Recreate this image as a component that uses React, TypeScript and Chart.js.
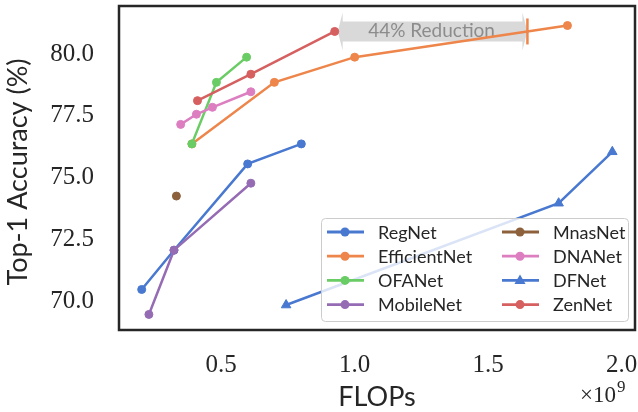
import React, { useEffect, useRef } from "react";
import { Chart, registerables } from "chart.js";

Chart.register(...registerables);

// ---- data (FLOPs in 1e9, Top-1 accuracy in %) ----
const regNetFlops = [0.202, 0.323, 0.599, 0.8];
const regNetAcc = [70.47, 72.06, 75.55, 76.36];

const efficientNetFlops = [0.39, 0.699, 1.0, 1.797];
const efficientNetAcc = [76.36, 78.85, 79.87, 81.15];

const ofaNetFlops = [0.39, 0.482, 0.595];
const ofaNetAcc = [76.36, 78.85, 79.87];

const mobileNetFlops = [0.229, 0.323, 0.611];
const mobileNetAcc = [69.46, 72.06, 74.77];

const mnasNetFlops = [0.332];
const mnasNetAcc = [74.25];

const dnaNetFlops = [0.348, 0.407, 0.467, 0.611];
const dnaNetAcc = [77.15, 77.56, 77.84, 78.47];

const dfNetFlops = [0.743, 1.764, 1.965];
const dfNetAcc = [69.84, 73.96, 76.04];

const zenNetFlops = [0.411, 0.611, 0.925];
const zenNetAcc = [78.11, 79.18, 80.91];

// reduction annotation: from ZenNet's best model to EfficientNet at same accuracy
const reductionFlops = [0.925, 1.647];
const reductionAcc = 80.91;
const reductionLabel = "44% Reduction";

const xTicks = [0.5, 1.0, 1.5, 2.0];
const yTicks = [70.0, 72.5, 75.0, 77.5, 80.0];
const xRange = [0.117, 2.05];
const yRange = [68.83, 81.94];

const seriesNames = ["RegNet", "EfficientNet", "OFANet", "MobileNet", "MnasNet", "DNANet", "DFNet", "ZenNet"];
const seriesFlops = [regNetFlops, efficientNetFlops, ofaNetFlops, mobileNetFlops, mnasNetFlops, dnaNetFlops, dfNetFlops, zenNetFlops];
const seriesAcc = [regNetAcc, efficientNetAcc, ofaNetAcc, mobileNetAcc, mnasNetAcc, dnaNetAcc, dfNetAcc, zenNetAcc];
const seriesColors = ["#4878d0", "#ee854a", "#6acc64", "#956cb4", "#8c613c", "#dc7ec0", "#4878d0", "#d65f5f"];
const seriesMarkers = ["circle", "circle", "circle", "circle", "circle", "circle", "triangle", "circle"];

const SANS = "Lato, 'DejaVu Sans', sans-serif";
const SERIF = "'Liberation Serif', 'DejaVu Serif', serif";
const INK = "#262626";

const drawMarker = (ctx: CanvasRenderingContext2D, style: string, x: number, y: number, r: number, color: string) => {
  ctx.fillStyle = color;
  ctx.beginPath();
  if (style === "triangle") {
    const h = r * 1.3;
    ctx.moveTo(x, y - h);
    ctx.lineTo(x + h * 0.95, y + h * 0.6);
    ctx.lineTo(x - h * 0.95, y + h * 0.6);
    ctx.closePath();
  } else {
    ctx.arc(x, y, r, 0, Math.PI * 2);
  }
  ctx.fill();
};

const annotationPlugin = {
  id: "reductionArrow",
  beforeDatasetsDraw(chart: any) {
    const { ctx, scales } = chart;
    const x1 = scales.x.getPixelForValue(reductionFlops[0]) + 3;
    const x2 = scales.x.getPixelForValue(reductionFlops[1]);
    const y = scales.y.getPixelForValue(reductionAcc);
    const bh = 10; // body half height
    const hh = 19; // head half height
    const hl = 5; // head length
    ctx.save();
    ctx.fillStyle = "#d9d9d9";
    ctx.beginPath();
    ctx.moveTo(x1, y);
    ctx.lineTo(x1 + hl, y - hh);
    ctx.lineTo(x1 + hl, y - bh);
    ctx.lineTo(x2 - hl, y - bh);
    ctx.lineTo(x2 - hl, y - hh);
    ctx.lineTo(x2, y);
    ctx.lineTo(x2 - hl, y + hh);
    ctx.lineTo(x2 - hl, y + bh);
    ctx.lineTo(x1 + hl, y + bh);
    ctx.lineTo(x1 + hl, y + hh);
    ctx.closePath();
    ctx.fill();
    ctx.fillStyle = "#8c8c8c";
    ctx.font = `19px ${SANS}`;
    ctx.textAlign = "center";
    ctx.textBaseline = "middle";
    ctx.fillText(reductionLabel, (x1 + x2) / 2 - 1, y - 1);
    ctx.restore();
  },
};

const legendPlugin = {
  id: "customLegend",
  afterDatasetsDraw(chart: any) {
    const { ctx, chartArea } = chart;
    const w = 307;
    const h = 103;
    const right = chartArea.right - 7;
    const bottom = chartArea.bottom - 9;
    const left = right - w;
    const top = bottom - h;
    ctx.save();
    ctx.beginPath();
    ctx.roundRect(left + 0.5, top + 0.5, w, h, 4);
    ctx.fillStyle = "rgba(255,255,255,0.8)";
    ctx.fill();
    ctx.strokeStyle = "#cccccc";
    ctx.lineWidth = 1;
    ctx.stroke();
    ctx.font = `18px ${SANS}`;
    ctx.textBaseline = "middle";
    ctx.textAlign = "left";
    seriesNames.forEach((name, i) => {
      const col = Math.floor(i / 4);
      const row = i % 4;
      const lx = left + 6 + col * 175;
      const ly = top + 14 + row * 24.2;
      const color = seriesColors[i];
      ctx.strokeStyle = color;
      ctx.lineWidth = 2.8;
      ctx.beginPath();
      ctx.moveTo(lx, ly);
      ctx.lineTo(lx + 37, ly);
      ctx.stroke();
      drawMarker(ctx, seriesMarkers[i], lx + 18, ly, 4.5, color);
      ctx.fillStyle = INK;
      ctx.fillText(name, lx + 51, ly + 1);
    });
    ctx.restore();
  },
};

const framePlugin = {
  id: "frameAndLabels",
  afterDraw(chart: any) {
    const { ctx, chartArea } = chart;
    ctx.save();
    ctx.strokeStyle = INK;
    ctx.lineWidth = 2.5;
    ctx.strokeRect(chartArea.left, chartArea.top, chartArea.right - chartArea.left, chartArea.bottom - chartArea.top);
    // y axis title
    ctx.fillStyle = INK;
    ctx.translate(27, (chartArea.top + chartArea.bottom) / 2 + 4);
    ctx.rotate(-Math.PI / 2);
    ctx.font = `27px ${SANS}`;
    ctx.textAlign = "center";
    ctx.textBaseline = "alphabetic";
    ctx.fillText("Top-1 Accuracy (%)", 0, 0);
    ctx.restore();
    // offset text (x 10^9)
    ctx.save();
    ctx.fillStyle = INK;
    ctx.textBaseline = "alphabetic";
    ctx.textAlign = "left";
    ctx.font = `23px ${SERIF}`;
    const base = 402;
    const txt = "\u00d710";
    ctx.fillText(txt, 580, base);
    const w = ctx.measureText(txt).width;
    ctx.font = `17px ${SERIF}`;
    ctx.fillText("9", 580 + w + 1, base - 10);
    ctx.restore();
  },
};

export default function App() {
  const canvasRef = useRef<HTMLCanvasElement | null>(null);

  useEffect(() => {
    document.body.style.margin = "0";
    const canvas = canvasRef.current;
    if (!canvas) return;

    const datasets: any[] = seriesNames.map((name, i) => ({
      label: name,
      data: seriesFlops[i].map((f, j) => ({ x: f, y: seriesAcc[i][j] })),
      borderColor: seriesColors[i],
      backgroundColor: seriesColors[i],
      pointBackgroundColor: seriesColors[i],
      pointBorderColor: seriesColors[i],
      pointStyle: seriesMarkers[i],
      pointRadius: seriesMarkers[i] === "triangle" ? 5.5 : 4,
      pointBorderWidth: 1,
      borderWidth: 2.5,
      showLine: true,
      tension: 0,
      order: seriesNames.length - i + 1,
    }));
    datasets.push({
      label: "reduction-mark",
      data: [{ x: reductionFlops[1], y: reductionAcc }],
      borderColor: seriesColors[1],
      backgroundColor: seriesColors[1],
      pointStyle: "line",
      pointRotation: 90,
      pointRadius: 13,
      pointBorderWidth: 2.5,
      showLine: false,
      order: 0,
    });

    const chart = new Chart(canvas, {
      type: "scatter",
      data: { datasets },
      options: {
        responsive: false,
        animation: false,
        layout: { autoPadding: false, padding: { top: 6, right: 3, left: 0, bottom: 0 } },
        plugins: {
          legend: { display: false },
          tooltip: { enabled: false },
        },
        scales: {
          x: {
            type: "linear",
            min: xRange[0],
            max: xRange[1],
            grid: { display: false, drawTicks: false },
            border: { display: false },
            afterBuildTicks: (s: any) => {
              s.ticks = xTicks.map((v) => ({ value: v }));
            },
            afterFit: (s: any) => {
              s.height = 82;
              s.paddingLeft = 0;
              s.paddingRight = 0;
            },
            ticks: {
              padding: 20,
              color: INK,
              font: { family: SERIF, size: 25 },
              callback: (v: any) => Number(v).toFixed(1),
            },
            title: {
              display: true,
              text: "FLOPs",
              color: INK,
              font: { family: SANS, size: 27, lineHeight: 1 },
              padding: { top: 0, bottom: 1 },
            },
          },
          y: {
            type: "linear",
            min: yRange[0],
            max: yRange[1],
            grid: { display: false, drawTicks: false },
            border: { display: false },
            afterBuildTicks: (s: any) => {
              s.ticks = yTicks.map((v) => ({ value: v }));
            },
            afterFit: (s: any) => {
              s.width = 119;
              s.paddingTop = 0;
              s.paddingBottom = 0;
            },
            ticks: {
              padding: 25,
              color: INK,
              font: { family: SERIF, size: 25 },
              callback: (v: any) => Number(v).toFixed(1),
            },
          },
        },
      },
      plugins: [annotationPlugin, legendPlugin, framePlugin],
    });

    return () => chart.destroy();
  }, []);

  return (
    <div style={{ width: 638, height: 412 }}>
      <canvas ref={canvasRef} width={638} height={412} />
    </div>
  );
}
